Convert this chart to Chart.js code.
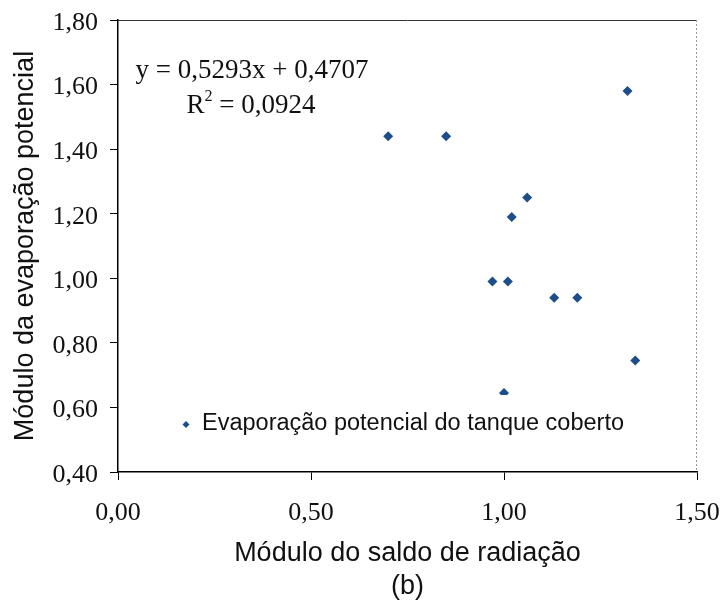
<!DOCTYPE html>
<html>
<head>
<meta charset="utf-8">
<script src="https://cdn.jsdelivr.net/npm/chart.js"></script>
<style>
  body { margin: 0; background: #fff; }
</style>
</head>
<body>
<canvas id="myChart" width="722" height="606"></canvas>
<script>
// módulo do saldo de radiação (x) e da evaporação potencial (y)
var moduloSaldo = [0.70, 0.85, 1.32, 1.06, 1.02, 0.97, 1.01, 1.13, 1.19, 1.34, 1.00];
var moduloEvap  = [1.44, 1.44, 1.58, 1.25, 1.19, 0.99, 0.99, 0.94, 0.94, 0.745, 0.645];

// reta de tendência
var coefA = 0.5293;
var coefB = 0.4707;
var coefR2 = 0.0924;

var serieNome = 'Evaporação potencial do tanque coberto';
var corSerie = '#1d4e89';

var fonteNum = '"Liberation Serif", "Times New Roman", serif';
var fonteTxt = '"Liberation Sans", Arial, sans-serif';

function virgula(v, casas){
  return Number(v).toFixed(casas).replace('.', ',');
}

/*
* Plugin: borda superior/direita da área, equação da reta e legenda dentro do gráfico
*/
var extras = {
  id: 'extras',
  afterDatasetsDraw: function(chart){
    var ctx = chart.ctx;
    var a = chart.chartArea;
    ctx.save();

    // borda de cima e da direita
    ctx.strokeStyle = '#333';
    ctx.lineWidth = 1;
    ctx.beginPath();
    ctx.moveTo(a.left, a.top + 0.5);
    ctx.lineTo(a.right, a.top + 0.5);
    ctx.stroke();
    ctx.strokeStyle = '#999';
    ctx.setLineDash([2, 2]);
    ctx.beginPath();
    ctx.moveTo(a.right - 0.5, a.top);
    ctx.lineTo(a.right - 0.5, a.bottom);
    ctx.stroke();
    ctx.setLineDash([]);

    // equação
    ctx.fillStyle = '#111';
    ctx.textBaseline = 'middle';
    ctx.font = '27px ' + fonteNum;
    ctx.textAlign = 'center';
    ctx.fillText('y = ' + virgula(coefA, 4) + 'x + ' + virgula(coefB, 4), 252, 71);

    var r = 'R', resto = ' = ' + virgula(coefR2, 4);
    var wR = ctx.measureText(r).width;
    var wResto = ctx.measureText(resto).width;
    ctx.font = '16px ' + fonteNum;
    var wSup = ctx.measureText('2').width;
    var x0 = 251 - (wR + wSup + wResto) / 2;
    ctx.textAlign = 'left';
    ctx.font = '27px ' + fonteNum;
    ctx.fillText(r, x0, 106);
    ctx.fillText(resto, x0 + wR + wSup, 106);
    ctx.font = '16px ' + fonteNum;
    ctx.fillText('2', x0 + wR, 97);

    // legenda
    ctx.fillStyle = '#fff';
    ctx.fillRect(175, 395, 470, 61);
    ctx.fillStyle = corSerie;
    ctx.beginPath();
    ctx.moveTo(186, 421);
    ctx.lineTo(189.5, 424.5);
    ctx.lineTo(186, 428);
    ctx.lineTo(182.5, 424.5);
    ctx.closePath();
    ctx.fill();
    ctx.fillStyle = '#111';
    ctx.font = '23.5px ' + fonteTxt;
    ctx.fillText(serieNome, 202, 424);

    ctx.restore();
  }
};

function showchart(){
  var ctx = document.getElementById('myChart');
  var pontos = [];
  for (var i = 0; i < moduloSaldo.length; i++){
    pontos.push({x: moduloSaldo[i], y: moduloEvap[i]});
  }

  new Chart(ctx, {
    type: 'scatter',
    data: {
      datasets: [{
        label: serieNome,
        data: pontos,
        pointStyle: 'rectRot',
        pointRadius: 5,
        pointHoverRadius: 5,
        backgroundColor: corSerie,
        borderColor: corSerie,
        borderWidth: 0
      }]
    },
    options: {
      responsive: false,
      animation: false,
      layout: { padding: { top: 20, right: 25, left: 0, bottom: 0 } },
      plugins: {
        legend: { display: false },
        tooltip: { enabled: false }
      },
      scales: {
        x: {
          type: 'linear',
          min: 0, max: 1.5,
          afterFit: function(s){ s.height = 134; s.paddingLeft = 0; s.paddingRight = 0; },
          border: { color: '#000', width: 1.5 },
          grid: { drawOnChartArea: false, tickLength: 8, color: '#000' },
          ticks: {
            stepSize: 0.5,
            padding: 18,
            color: '#111',
            font: { family: fonteNum, size: 26 },
            callback: function(v){ return virgula(v, 2); }
          },
          title: {
            display: true,
            text: ['Módulo do saldo de radiação', '(b)'],
            color: '#111',
            font: { family: fonteTxt, size: 27, lineHeight: 1.22 },
            padding: { top: 0, bottom: 3 }
          }
        },
        y: {
          type: 'linear',
          min: 0.4, max: 1.8,
          afterFit: function(s){ s.width = 118; s.paddingTop = 0; s.paddingBottom = 0; },
          border: { color: '#000', width: 1.5 },
          grid: { drawOnChartArea: false, tickLength: 8, color: '#000' },
          ticks: {
            stepSize: 0.2,
            padding: 12,
            labelOffset: 3,
            color: '#111',
            font: { family: fonteNum, size: 26 },
            callback: function(v){ return virgula(v, 2); }
          },
          title: {
            display: true,
            text: 'Módulo da evaporação potencial',
            color: '#111',
            font: { family: fonteTxt, size: 27, lineHeight: 1.22 },
            padding: { top: 9, bottom: 0 }
          }
        }
      }
    },
    plugins: [extras]
  });
}

showchart();
</script>
</body>
</html>
